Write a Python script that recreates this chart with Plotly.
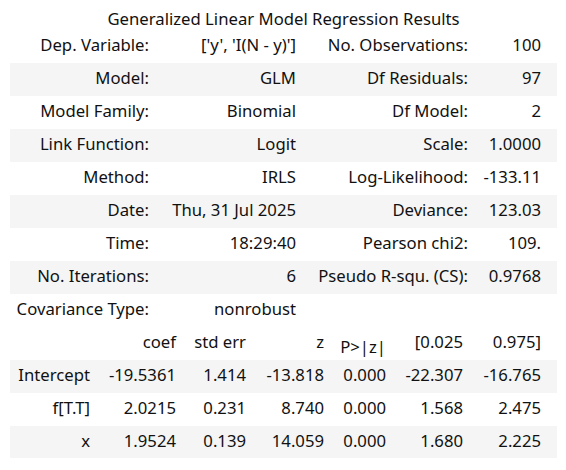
import plotly.graph_objects as go

# top block of the statsmodels summary
left_labels = ['Dep. Variable:', 'Model:', 'Model Family:', 'Link Function:', 'Method:',
               'Date:', 'Time:', 'No. Iterations:', 'Covariance Type:']
left_values = ["['y', 'I(N - y)']", 'GLM', 'Binomial', 'Logit', 'IRLS',
               'Thu, 31 Jul 2025', '18:29:40', '6', 'nonrobust']
right_labels = ['No. Observations:', 'Df Residuals:', 'Df Model:', 'Scale:', 'Log-Likelihood:',
                'Deviance:', 'Pearson chi2:', 'Pseudo R-squ. (CS):', '']
right_values = ['100', '97', '2', '1.0000', '-133.11', '123.03', '109.', '0.9768', '']

# coefficient block
coef_header = ['', 'coef', 'std err', 'z', 'P>|z|', '[0.025', '0.975]']
terms = ['Intercept', 'f[T.T]', 'x']
coef = [-19.5361, 2.0215, 1.9524]
std_err = [1.414, 0.231, 0.139]
z = [-13.818, 8.740, 14.059]
p_value = [0.000, 0.000, 0.000]
ci_low = [-22.307, 1.568, 1.680]
ci_high = [-16.765, 2.475, 2.225]

# the page body adds an 8px margin, so the figure is 16px smaller than the window
W, H = 550, 454
OFF = 8
GRAY = '#f5f5f5'
FONT = dict(family='Noto Sans', size=16.7, color='#111')
ROW_H = 33
TOP = 30


def nb(items):
    # keep plotly from wrapping multi-word cells, escape '>' for the svg text
    return [s.replace(' ', '\u00a0').replace('>', '&gt;') for s in items]


def stripes(n, first_gray=False):
    return [GRAY if (i % 2 == 1) != first_gray else 'white' for i in range(n)]


def px_x(a, b):
    return [(a - OFF) / W, (b - OFF) / W]


def px_y(top, bottom):
    return [1 - (bottom - OFF) / H, 1 - (top - OFF) / H]


cols1 = [nb(left_labels), nb(left_values), nb(right_labels), nb(right_values)]
n1 = len(left_labels) - 1
fill1 = stripes(n1, first_gray=True)

fig = go.Figure()

# first row goes in the header, the rest in the body
fig.add_trace(go.Table(
    domain=dict(x=px_x(10, 557), y=px_y(TOP, TOP + ROW_H * (n1 + 1))),
    columnwidth=[147, 147, 172, 73, 8],
    header=dict(values=[c[0] for c in cols1] + [''], align='right', height=ROW_H,
                font=FONT, fill_color='white', line_width=0),
    cells=dict(
        values=[c[1:] for c in cols1] + [[''] * n1],
        align='right', height=ROW_H, font=FONT,
        fill_color=[fill1] * 5, line_width=0,
    ),
))

coef_widths = [88, 86, 70, 78, 62, 77, 78, 8]
coef_fmt = ['', '.4f', '.3f', '.3f', '.3f', '.3f', '.3f', '']
top2 = TOP + ROW_H * (n1 + 1)

# column names on their own, so their row height cannot push the body down
fig.add_trace(go.Table(
    domain=dict(x=px_x(10, 557), y=px_y(top2, top2 + ROW_H)),
    columnwidth=coef_widths,
    header=dict(values=nb(coef_header) + [''], align='right', height=ROW_H, font=FONT,
                fill_color='white', line_width=0),
    cells=dict(values=[]),
))

coef_cols = [terms, coef, std_err, z, p_value, ci_low, ci_high]
n2 = len(terms) - 1
fill2 = stripes(n2)
top3 = top2 + ROW_H
fig.add_trace(go.Table(
    domain=dict(x=px_x(10, 557), y=px_y(top3, top3 + ROW_H * (n2 + 1))),
    columnwidth=coef_widths,
    header=dict(values=[c[:1] for c in coef_cols] + [['']], format=coef_fmt,
                align='right', height=ROW_H, font=FONT, fill_color=GRAY, line_width=0),
    cells=dict(
        values=[c[1:] for c in coef_cols] + [[''] * n2],
        format=coef_fmt,
        align='right', height=ROW_H, font=FONT,
        fill_color=[fill2] * 8, line_width=0,
    ),
))

fig.update_layout(
    width=W, height=H,
    margin=dict(l=0, r=0, t=0, b=0),
    paper_bgcolor='white',
    title=dict(text='Generalized Linear Model Regression Results', x=(283.5 - OFF) / W,
               xanchor='center', y=1 - (19 - OFF) / H, yanchor='middle', font=FONT),
)

fig.write_html('out.html')
